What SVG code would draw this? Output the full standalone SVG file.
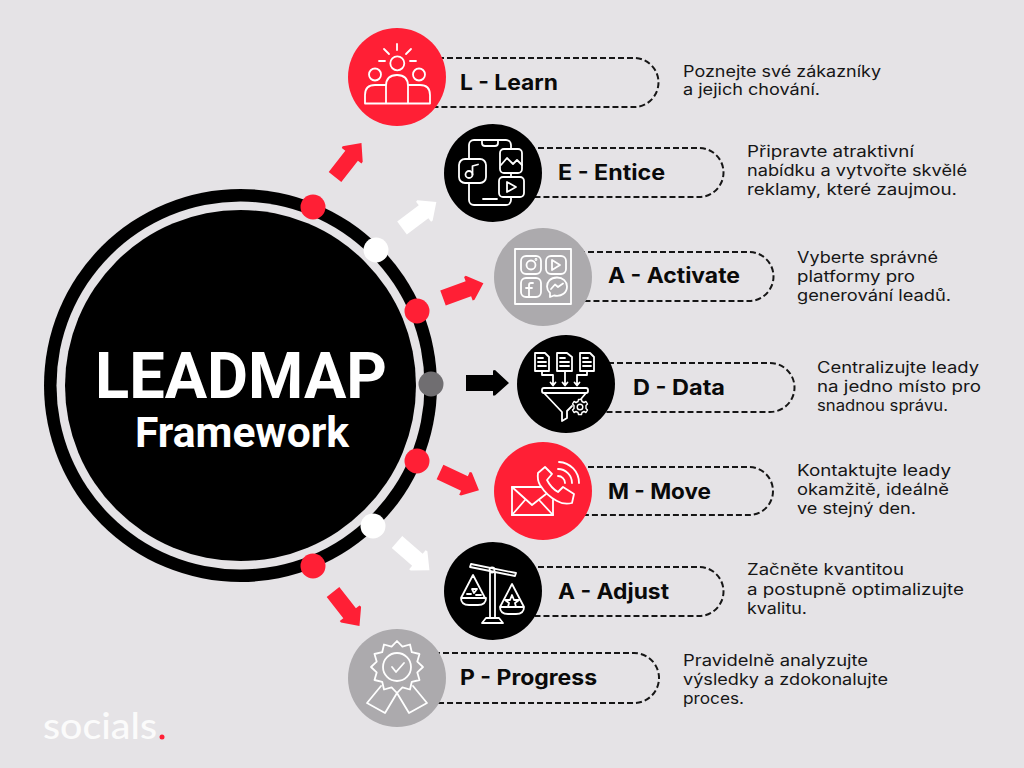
<svg xmlns="http://www.w3.org/2000/svg" width="1024" height="768" viewBox="0 0 1024 768">
<style>
.pill{fill:none;stroke:#161616;stroke-width:2;stroke-dasharray:6 3}
.lbl{font-family:Inter,"Liberation Sans",sans-serif;font-weight:700;font-size:21px;fill:#0a0a0a}
.txt{font-family:Inter,"Liberation Sans",sans-serif;font-weight:400;font-size:15.5px;fill:#161616}
.ico{fill:none;stroke:#fff;stroke-width:1.800;stroke-linecap:round;stroke-linejoin:round}
.red{fill:#ff1f35}.blk{fill:#000}.gry{fill:#acaaad}
.ttl{font-family:Roboto,"Liberation Sans",sans-serif;font-weight:700;fill:#fff;text-anchor:middle}
</style>
<defs>
<path id="arr" d="M0-8H27V-12.5L29-13L43 0L29 12.500L27 12.500V8H0Z" stroke-linejoin="round"/>
</defs>
<rect width="1024" height="768" fill="#e5e3e6"/>

<g id="connectors">
<use href="#arr" fill="#ff1f35" transform="translate(335 177) rotate(-52)"/>
<use href="#arr" fill="#fff" transform="translate(402 228) rotate(-37)"/>
<use href="#arr" fill="#ff1f35" transform="translate(443 298) rotate(-20)"/>
<use href="#arr" fill="#000" transform="translate(466 383)"/>
<use href="#arr" fill="#ff1f35" transform="translate(440 472) rotate(25)"/>
<use href="#arr" fill="#fff" transform="translate(397 542) rotate(41)"/>
<use href="#arr" fill="#ff1f35" transform="translate(333 592) rotate(52)"/>
</g>

<g id="hub">
<circle cx="240.500" cy="385.500" r="196.500" fill="#000"/>
<circle cx="240.500" cy="385.500" r="184" fill="#e5e3e6"/>
<circle cx="240.500" cy="385.500" r="175.500" fill="#000"/>
<circle cx="313" cy="207" r="12.500" fill="#ff1f35"/>
<circle cx="376" cy="250" r="12.500" fill="#fff"/>
<circle cx="417" cy="311" r="12.500" fill="#ff1f35"/>
<circle cx="431" cy="384" r="12.500" fill="#706e71"/>
<circle cx="417" cy="461" r="12.500" fill="#ff1f35"/>
<circle cx="373" cy="526" r="12.500" fill="#fff"/>
<circle cx="313" cy="566" r="12.500" fill="#ff1f35"/>
<text class="ttl" x="241" y="398" font-size="64" textLength="292" lengthAdjust="spacingAndGlyphs">LEADMAP</text>
<text class="ttl" x="242" y="447" font-size="42" textLength="214" lengthAdjust="spacingAndGlyphs">Framework</text>
</g>

<g id="node-l">
<path class="pill" d="M420 58H634A24.500 24.500 0 0 1 634 107H420"/>
<circle class="red" cx="397" cy="77" r="49"/>
<g class="ico" stroke-width="2">
<circle cx="397.300" cy="63.300" r="7"/><path d="M397 44V50M384 49L389 54M411 49L406 54M379 61H385M410 61H416"/>
<circle cx="375" cy="74.500" r="6"/><circle cx="419" cy="74.500" r="6"/>
<path d="M386 103V86Q386 75 397 75Q408 75 408 86V103M386 85H375Q365 85 365 95V103.500H430V95Q430 85 420 85H408"/>
</g>
<text class="lbl" x="460" y="90" textLength="98" lengthAdjust="spacingAndGlyphs">L - Learn</text>
</g>

<g id="node-e">
<path class="pill" d="M520 148H699A24.500 24.500 0 0 1 699 197H520"/>
<circle class="blk" cx="493" cy="173" r="49"/>
<g class="ico">
<rect x="469" y="140" width="42" height="65" rx="5"/><path d="M482 141V143Q482 146 485 146H495Q498 146 498 143V141M483 199H497"/>
<rect x="459" y="159" width="27" height="24" rx="6" fill="#000"/>
<circle cx="469" cy="174.500" r="3.500"/><path d="M472.500 174.500V166L478 164.500"/>
<rect x="500" y="149" width="22" height="24" rx="4" fill="#000"/><path d="M501 165L507 158L513 164L517 160L522 165"/>
<rect x="499" y="177" width="25" height="20" rx="4" fill="#000"/><path d="M507 182V192L516 187Z"/>
</g>
<text class="lbl" x="558" y="180" textLength="107" lengthAdjust="spacingAndGlyphs">E - Entice</text>
</g>

<g id="node-a1">
<path class="pill" d="M570 252H749A24.500 24.500 0 0 1 749 301H570"/>
<circle class="gry" cx="543" cy="277" r="49"/>
<g class="ico">
<rect x="515" y="249" width="56" height="55"/>
<rect x="521" y="256" width="20" height="18" rx="5"/><circle cx="531" cy="265" r="4.500"/><circle cx="536" cy="259.500" r=".5"/>
<rect x="546" y="256" width="20" height="18" rx="5"/><path d="M552 260V270L560 265Z"/>
<rect x="521" y="278" width="20" height="19" rx="5"/><path d="M533 283H531Q529 283 529 285V297M526 288H532"/>
<path d="M557 277.500C550 277.500 547 282 547 286.500C547 289.500 548.500 291.500 550 293V297L554 295.500C562 297 567 292.500 567 286.500C567 281.500 563 277.500 557 277.500Z"/><path d="M551 289L555 284.500L558 287L563 283.500"/>
</g>
<text class="lbl" x="608" y="283" textLength="132" lengthAdjust="spacingAndGlyphs">A - Activate</text>
</g>

<g id="node-d">
<path class="pill" d="M590 363H770A24.500 24.500 0 0 1 770 412H590"/>
<circle class="blk" cx="566" cy="384" r="49"/>
<g class="ico">
<path d="M535 353H545L549 357V371H535ZM538 358H543M538 362H546M538 366H546"/>
<path d="M557 353H567L572 357V371H557ZM560 358H565M560 362H569M560 366H569"/>
<path d="M580 353H590L594 357V371H580ZM583 358H588M583 362H591M583 366H591"/>
<path d="M542 371V375H553V385M550.500 382.500L553 385.500L555.500 382.500M565 371V385M562.500 382.500L565 385.500L567.500 382.500M587 371V375H577V385M574.500 382.500L577 385.500L579.500 382.500"/>
<rect x="542" y="388" width="46" height="5" rx="2"/>
<path d="M544 393L562 412V421L567 418V411L572 406M586 393L581 399"/>
<circle cx="580" cy="407" r="2.800" stroke-width="1.400"/>
<path stroke-width="1.400" d="M578.500 399.500H581.500L582 401.500L584 402.500L586 401.500L587.500 404L586 405.500V408.500L587.500 410L586 412.500L584 411.500L582 412.500L581.500 414.500H578.500L578 412.500L576 411.500L574 412.500L572.500 410L574 408.500V405.500L572.500 404L574 401.500L576 402.500L578 401.500Z"/>
</g>
<text class="lbl" x="633" y="395" textLength="92" lengthAdjust="spacingAndGlyphs">D - Data</text>
</g>

<g id="node-m">
<path class="pill" d="M570 467H749A24 24 0 0 1 749 515H570"/>
<circle class="red" cx="543" cy="491" r="49"/>
<g class="ico">
<path d="M544 487H512V515H553V500"/>
<path d="M512 487L532 505L546 494M512 515L525 500M553 515L540 501"/>
<path d="M545 467L538 473Q537 480 540 485Q547 496 557 501Q564 505 572 503L574 494L563 487L558 492Q551 488 547 480L552 474Z" fill="#ff1f35"/>
<path d="M559 462A21 21 0 0 1 579 483M558 469A14 14 0 0 1 572 483M558 476A7 7 0 0 1 565 483"/>
</g>
<text class="lbl" x="608" y="499" textLength="103" lengthAdjust="spacingAndGlyphs">M - Move</text>
</g>

<g id="node-a2">
<path class="pill" d="M520 567H699A24.500 24.500 0 0 1 699 616H520"/>
<circle class="blk" cx="493" cy="591" r="49"/>
<g class="ico">
<path d="M471 564L516 573L515 576L470 567Z"/>
<circle cx="492" cy="570" r="2.500"/>
<path d="M490 573V618H495V573M486 618H499L503 623H482Z"/>
<path d="M473 575L461 598H485ZM461 598H486Q486 605 478 605H469Q461 605 461 598ZM472 589L477 589L474 593ZM467 594L471 594M476 595L481 595"/>
<path d="M512 584L500 607H524ZM500 607H524Q524 614 516 614H508Q500 614 500 607Z"/>
<path d="M512 595L514 600L519 600L515 603L516 607H508L509 603L505 600L510 600Z"/>
</g>
<text class="lbl" x="558" y="599" textLength="111" lengthAdjust="spacingAndGlyphs">A - Adjust</text>
</g>

<g id="node-p">
<path class="pill" d="M425 653H634A25 25 0 0 1 634 703H425"/>
<circle class="gry" cx="397" cy="678" r="49"/>
<g class="ico">
<path d="M423 667L417.300 661.600L419.500 654L411.800 652.200L410 644.500L402.400 646.700L397 641L391.600 646.700L384 644.500L382.200 652.200L374.500 654L376.700 661.600L371 667L376.700 672.400L374.500 680L382.200 681.800L384 689.500L391.600 687.300L397 693L402.400 687.300L410 689.500L411.800 681.800L419.500 680L417.300 672.400Z"/>
<circle cx="397" cy="667" r="14"/>
<path d="M392 667L396 672L404 663"/>
<path d="M381 686L367 703L385 713L397 693L409 713L427 703L413 686"/>
</g>
<text class="lbl" x="460" y="685" textLength="137" lengthAdjust="spacingAndGlyphs">P - Progress</text>
</g>

<g id="descriptions">
<text class="txt" x="683" y="77" textLength="198" lengthAdjust="spacingAndGlyphs">Poznejte své zákazníky</text>
<text class="txt" x="683" y="95" textLength="137" lengthAdjust="spacingAndGlyphs">a jejich chování.</text>
<text class="txt" x="747" y="157" textLength="167" lengthAdjust="spacingAndGlyphs">Připravte atraktivní</text>
<text class="txt" x="747" y="176" textLength="220" lengthAdjust="spacingAndGlyphs">nabídku a vytvořte skvělé</text>
<text class="txt" x="747" y="195" textLength="210" lengthAdjust="spacingAndGlyphs">reklamy, které zaujmou.</text>
<text class="txt" x="797" y="263" textLength="141" lengthAdjust="spacingAndGlyphs">Vyberte správné</text>
<text class="txt" x="797" y="282" textLength="118" lengthAdjust="spacingAndGlyphs">platformy pro</text>
<text class="txt" x="797" y="301" textLength="154" lengthAdjust="spacingAndGlyphs">generování leadů.</text>
<text class="txt" x="817" y="373" textLength="162" lengthAdjust="spacingAndGlyphs">Centralizujte leady</text>
<text class="txt" x="817" y="392" textLength="164" lengthAdjust="spacingAndGlyphs">na jedno místo pro</text>
<text class="txt" x="817" y="411" textLength="131" lengthAdjust="spacingAndGlyphs">snadnou správu.</text>
<text class="txt" x="797" y="476" textLength="154" lengthAdjust="spacingAndGlyphs">Kontaktujte leady</text>
<text class="txt" x="797" y="495" textLength="152" lengthAdjust="spacingAndGlyphs">okamžitě, ideálně</text>
<text class="txt" x="797" y="514" textLength="119" lengthAdjust="spacingAndGlyphs">ve stejný den.</text>
<text class="txt" x="747" y="575" textLength="157" lengthAdjust="spacingAndGlyphs">Začněte kvantitou</text>
<text class="txt" x="747" y="595" textLength="217" lengthAdjust="spacingAndGlyphs">a postupně optimalizujte</text>
<text class="txt" x="747" y="614" textLength="60" lengthAdjust="spacingAndGlyphs">kvalitu.</text>
<text class="txt" x="683" y="666" textLength="185" lengthAdjust="spacingAndGlyphs">Pravidelně analyzujte</text>
<text class="txt" x="683" y="685" textLength="205" lengthAdjust="spacingAndGlyphs">výsledky a zdokonalujte</text>
<text class="txt" x="683" y="704" textLength="61" lengthAdjust="spacingAndGlyphs">proces.</text>
</g>

<g id="logo">
<text x="43" y="739" textLength="114" lengthAdjust="spacingAndGlyphs" font-family="Lato,Inter,sans-serif" font-size="36" font-weight="500" fill="#fbfbfb">socials</text>
<circle cx="162" cy="737" r="2.500" fill="#ff1f35"/>
</g>
</svg>
